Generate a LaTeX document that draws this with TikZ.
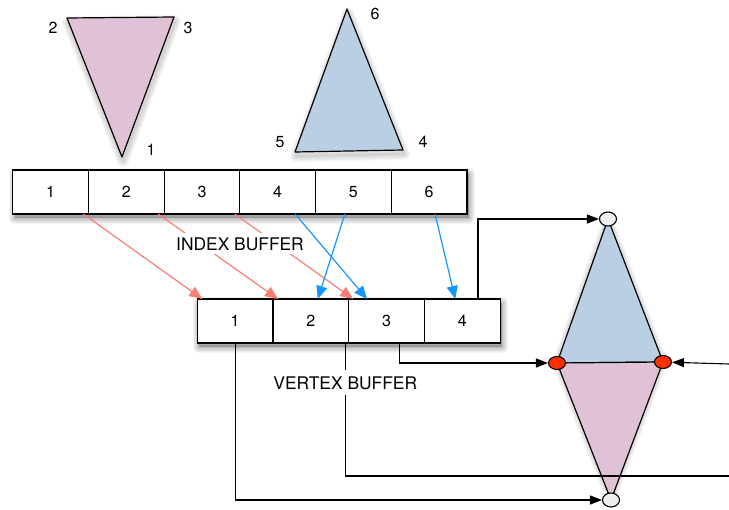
\documentclass[tikz,border=0pt]{standalone}
\usepackage{fontspec}
\setmainfont{TeX Gyre Heros}
\usetikzlibrary{arrows.meta,calc,shapes.geometric}

\pgfdeclarelayer{bg}
\pgfsetlayers{bg,main}

\definecolor{pinkfill}{RGB}{225,193,214}
\definecolor{bluefill}{RGB}{186,207,228}
\definecolor{salmon}{RGB}{250,125,118}
\definecolor{skyarrow}{RGB}{22,150,255}
\definecolor{vertred}{RGB}{255,48,0}
\definecolor{vertwhite}{RGB}{238,238,238}

\tikzset{
  bufbox/.style={draw, fill=white, line width=1.2pt, minimum height=44pt, inner sep=0pt, outer sep=0pt},
  cell/.style={draw, line width=1.2pt, minimum width=75.7pt, minimum height=44pt, inner sep=0pt, outer sep=0pt,
    font=\fontsize{16}{17}\selectfont, anchor=west},
  tri/.style={draw, line width=1.2pt, line join=round},
  boxshadecore/.style={fill=black, opacity=0.22},
  boxshade/.style={draw=black, opacity=0.045, line join=round},
  trishade/.style={draw=black, opacity=0.03, line join=round},
  cornerlbl/.style={font=\fontsize{16}{17}\selectfont, inner sep=0pt},
  buflbl/.style={font=\fontsize{17.4}{18}\selectfont, fill=white, inner xsep=1pt, inner ysep=4pt},
  redarr/.style={draw=salmon, line width=1.2pt, -{Triangle[length=13pt,width=11pt]}},
  bluearr/.style={draw=skyarrow, line width=1.2pt, -{Triangle[length=13pt,width=11pt]}},
  conn/.style={draw, line width=1.1pt},
  connarr/.style={conn, -{Triangle[length=12pt,width=9pt]}},
  vtx/.style={ellipse, draw, line width=1.1pt, minimum width=17pt, minimum height=14pt, inner sep=0pt},
  redvtx/.style={vtx, fill=vertred, minimum height=13pt},
  whitevtx/.style={vtx, fill=vertwhite}
}

\begin{document}
\begin{tikzpicture}[x=1pt,y=-1pt]
\useasboundingbox (0,0) rectangle (729,510);

% soft shadows under the source triangles
\foreach \w in {2,4,...,12} {
  \draw[trishade, line width=\w pt, shift={(1pt,-4pt)}] (67,18) -- (174,17) -- (122,157) -- cycle;
  \draw[trishade, line width=\w pt, shift={(1pt,-4pt)}] (347,9) -- (403,150) -- (295,152) -- cycle;
}

% source triangles
\draw[tri, fill=pinkfill] (67,18) -- (174,17) -- (122,157) -- cycle;
\draw[tri, fill=bluefill] (347,9) -- (403,150) -- (295,152) -- cycle;
\node[cornerlbl] (p2) at (53,28) {2};
\node[cornerlbl] (p3) at (188,28) {3};
\node[cornerlbl] (p1) at (151,150) {1};
\node[cornerlbl] (b6) at (375,14) {6};
\node[cornerlbl] (b5) at (280,142) {5};
\node[cornerlbl] (b4) at (423,142) {4};

% index buffer
\node[bufbox, minimum width=454.2pt] (ibuf) at (239.8,192) {};
\node[cell] (i1) at (ibuf.west) {1};
\node[cell] (i2) at (i1.east) {2};
\node[cell] (i3) at (i2.east) {3};
\node[cell] (i4) at (i3.east) {4};
\node[cell] (i5) at (i4.east) {5};
\node[cell] (i6) at (i5.east) {6};

% vertex buffer
\node[bufbox, minimum width=302.8pt] (vbuf) at (348.7,321) {};
\node[cell] (v1) at (vbuf.west) {1};
\node[cell] (v2) at (v1.east) {2};
\node[cell] (v3) at (v2.east) {3};
\node[cell] (v4) at (v3.east) {4};

% soft shadows under both buffers
\begin{pgfonlayer}{bg}
  \foreach \b in {ibuf,vbuf} {
    \fill[boxshadecore] ([shift={(2pt,-4pt)}]\b.north west) rectangle ([shift={(2pt,-4pt)}]\b.south east);
    \foreach \w in {2,4,...,12}
      \draw[boxshade, line width=\w pt] ([shift={(2pt,-4pt)}]\b.north west) rectangle ([shift={(2pt,-4pt)}]\b.south east);
  }
\end{pgfonlayer}

% index -> vertex references
\draw[redarr] ([xshift=-5pt]i1.south east) -- ([xshift=5pt]v1.north west);
\draw[redarr] ([xshift=-6pt]i2.south east) -- ([xshift=5pt]v2.north west);
\draw[redarr] ([xshift=-5pt]i3.south east) -- ([xshift=4.5pt]v3.north west);
\draw[bluearr] ([xshift=17.5pt]i4.south) -- ([xshift=-19.5pt]v3.north);
\draw[bluearr] ([xshift=-8.5pt]i5.south) -- ([xshift=7pt]v2.north);
\draw[bluearr] ([xshift=6pt]i6.south) -- ([xshift=-7pt]v4.north);

\node[buflbl] (ilbl) at (240,244) {INDEX BUFFER};

% shared-vertex mesh
\coordinate (tvp) at (608,219);
\coordinate (lvp) at (557,363);
\coordinate (rvp) at (663,362);
\coordinate (bvp) at (611,500);
\foreach \w in {2,4,...,10} {
  \draw[trishade, line width=\w pt, shift={(1pt,-3pt)}] (tvp) -- (rvp) -- (bvp) -- (lvp) -- cycle;
}
\draw[tri, fill=bluefill] (tvp) -- (rvp) -- (lvp) -- cycle;
\draw[tri, fill=pinkfill] (lvp) -- (rvp) -- (bvp) -- cycle;

\coordinate (redge) at (729,364);
\coordinate (bedge) at (729,476);

% vertex buffer -> mesh vertices
\draw[conn] ([xshift=-3pt]v2.south east) |- (bedge);

\node[whitevtx] (tv) at (tvp) {};
\node[whitevtx] (bv) at (bvp) {};
\node[redvtx] (lv) at (lvp) {};
\node[redvtx] (rv) at (rvp) {};

\draw[connarr] ([xshift=15.75pt]v4.north) |- (tv);
\draw[connarr] ([xshift=13pt]v3.south) |- (lv);
\draw[connarr] (redge) -- (rv);
\draw[connarr] ([xshift=0.5pt]v1.south) |- (bv);

\node[buflbl, inner ysep=6pt] (vlbl) at (345.3,383) {VERTEX BUFFER};
\end{tikzpicture}
\end{document}
